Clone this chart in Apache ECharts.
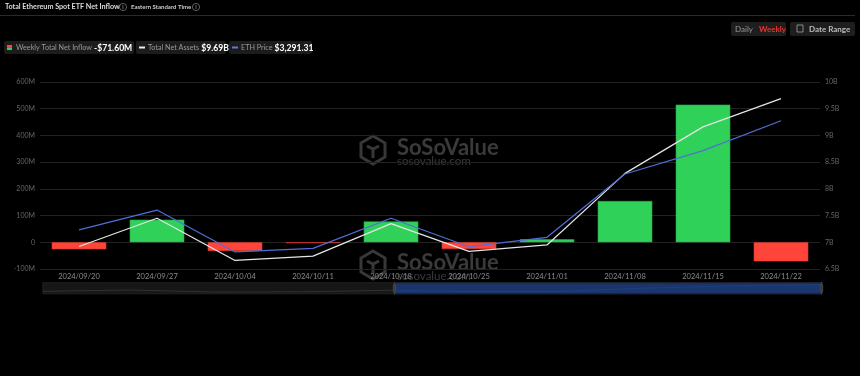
<!doctype html>
<html>
<head>
<meta charset="UTF-8">
<title>eth_etf_inflow</title>
<script src="https://cdn.jsdelivr.net/npm/echarts@6/dist/echarts.min.js"></script>
<style>
    html, body { margin: 0; padding: 0; background: #000; }
    #main { width: 860px; height: 376px; }
</style>
</head>
<body>
<div id="main"></div>
<script>
// weekly data
var dates = ['2024/09/20', '2024/09/27', '2024/10/04', '2024/10/11', '2024/10/18',
             '2024/10/25', '2024/11/01', '2024/11/08', '2024/11/15', '2024/11/22'];
var netInflow = [-26.2, 84.6, -32.4, -3.2, 77.8, -25.6, 11.2, 154.7, 515.2, -71.6];   // M USD
var netAssets = [6.92, 7.45, 6.66, 6.74, 7.35, 6.83, 6.95, 8.29, 9.16, 9.69];         // B USD
var ethPrice = [2561, 2694, 2414, 2438, 2639, 2449, 2512, 2935, 3091, 3291.31];
var leftTicks = [-100, 600, 100];
var rightTicks = [6.5, 10, 0.5];

var myChart = echarts.init(document.getElementById('main'));

var GREEN = '#30d158', RED = '#ff453a';

function txt(x, y, s, color, size, weight, extra) {
    var st = { text: s, fill: color, fontSize: size, fontWeight: weight || 'normal', fontFamily: 'Lato' };
    for (var k in extra) st[k] = extra[k];
    return { type: 'text', x: x, y: y, style: st };
}

function infoIcon(x, y) {
    return {
        type: 'group', x: x, y: y, children: [
            { type: 'circle', shape: { cx: 4, cy: 4, r: 3.6 }, style: { fill: 'none', stroke: '#777', lineWidth: 0.8 } },
            txt(4, 4.3, 'i', '#888', 5.5, 'bold', { align: 'center', verticalAlign: 'middle' })
        ]
    };
}

function watermark(top) {
    return {
        type: 'group', x: 360, y: top, z: -10, silent: true, children: [
            { type: 'polygon', shape: { points: [[13, 0], [25, 7], [25, 21], [13, 28], [1, 21], [1, 7]] },
              style: { fill: 'none', stroke: '#383838', lineWidth: 3 } },
            { type: 'polyline', shape: { points: [[7, 10], [13, 13], [19, 10]] },
              style: { fill: 'none', stroke: '#383838', lineWidth: 3 } },
            { type: 'polyline', shape: { points: [[13, 13], [13, 22]] },
              style: { fill: 'none', stroke: '#383838', lineWidth: 3 } },
            txt(37, 1, 'SoSoValue', '#3a3a3a', 22, 'bold'),
            txt(37, 19, 'sosovalue.com', '#3a3a3a', 11.5)
        ]
    };
}

var legendItems = [
    { x: 4, w: 130, label: 'Weekly Total Net Inflow', value: '-$71.60M', kind: 'bar' },
    { x: 136, w: 90, label: 'Total Net Assets', value: '$9.69B', kind: 'white' },
    { x: 229, w: 83, label: 'ETH Price', value: '$3,291.31', kind: 'blue' }
];

var graphics = [
    txt(5, 3.5, 'Total Ethereum Spot ETF Net Inflow', '#ddd', 7.2, 'bold'),
    infoIcon(119, 3),
    txt(131, 4.5, 'Eastern Standard Time', '#ccc', 6, 'bold'),
    infoIcon(192, 3),
    { type: 'rect', x: 0, y: 15, shape: { width: 855, height: 1 }, style: { fill: '#2a2a2a' } },
    // period buttons
    { type: 'rect', x: 731, y: 22, shape: { width: 55, height: 14, r: 2 }, style: { fill: '#1e1e1e' } },
    txt(735, 25, 'Daily', '#999', 8),
    txt(759, 25, 'Weekly', '#e0392f', 8, 'bold'),
    { type: 'rect', x: 790, y: 22, shape: { width: 65, height: 14, r: 2 }, style: { fill: '#1e1e1e' } },
    { type: 'rect', x: 797, y: 25, shape: { width: 6, height: 7 }, style: { fill: 'none', stroke: '#888', lineWidth: 1 } },
    txt(809, 25, 'Date Range', '#bbb', 8, 'bold'),
    watermark(136),
    watermark(251)
];

legendItems.forEach(function (it) {
    var children = [
        { type: 'rect', shape: { x: 0, y: 0, width: it.w, height: 13, r: 2 }, style: { fill: '#1c1c1c' } }
    ];
    if (it.kind === 'bar') {
        children.push({ type: 'rect', shape: { x: 3, y: 4, width: 5, height: 2.5 }, style: { fill: RED } });
        children.push({ type: 'rect', shape: { x: 3, y: 6.5, width: 5, height: 2.5 }, style: { fill: GREEN } });
    } else {
        children.push({ type: 'rect', shape: { x: 3, y: 5.5, width: 6, height: 2 }, style: { fill: it.kind === 'white' ? '#eee' : '#5b7be0' } });
    }
    children.push({
        type: 'text', x: 12, y: 6.8,
        style: {
            text: '{l|' + it.label + '}{v|' + it.value + '}',
            verticalAlign: 'middle',
            rich: {
                l: { fill: '#999', fontSize: 7.2, fontFamily: 'Lato', padding: [0, 2, 0, 0] },
                v: { fill: '#fff', fontSize: 8.6, fontWeight: 'bold', fontFamily: 'Lato' }
            }
        }
    });
    graphics.push({ type: 'group', x: it.x, y: 41, children: children });
});

var option = {
    backgroundColor: '#000',
    animation: false,
    graphic: graphics,
    grid: [
        { left: 40, right: 40, top: 82, bottom: 107, containLabel: false },
        { left: 40, right: 40, top: 283, height: 10, show: false }
    ],
    xAxis: [
        {
            type: 'category', data: dates, gridIndex: 0,
            axisLine: { show: false },
            axisTick: { show: false },
            axisLabel: { color: '#8a8a8a', fontSize: 7.5, fontFamily: 'Lato', margin: 4 }
        },
        { type: 'category', data: dates, gridIndex: 1, show: false, boundaryGap: false }
    ],
    yAxis: [
        {
            type: 'value', min: leftTicks[0], max: leftTicks[1], interval: leftTicks[2],
            axisLabel: { color: '#666', fontSize: 7, fontFamily: 'Lato', margin: 5,
                formatter: function (v) { return v === 0 ? '0' : v + 'M'; } },
            splitLine: { lineStyle: { color: '#222', width: 1 } },
            axisLine: { show: false }, axisTick: { show: false }
        },
        {
            type: 'value', min: rightTicks[0], max: rightTicks[1], interval: rightTicks[2],
            position: 'right',
            axisLabel: { color: '#666', fontSize: 7, fontFamily: 'Lato', margin: 5,
                formatter: function (v) { return v + 'B'; } },
            splitLine: { show: false },
            axisLine: { show: false }, axisTick: { show: false }
        },
        { type: 'value', min: 2300, max: 3550, show: false },
        { type: 'value', gridIndex: 1, show: false, scale: true }
    ],
    dataZoom: [{
        type: 'slider', xAxisIndex: 1, start: 45, end: 100,
        left: 40, right: 40, top: 282, height: 12,
        backgroundColor: '#161616', borderColor: '#1e1e1e',
        fillerColor: 'rgba(28,58,120,0.85)',
        handleSize: '100%',
        handleStyle: { color: '#3c3c3c', borderColor: '#444' },
        moveHandleSize: 0,
        showDetail: false, brushSelect: false,
        dataBackground: { lineStyle: { color: '#3a3a3a', width: 0.8 }, areaStyle: { color: '#1f1f1f' } },
        selectedDataBackground: { lineStyle: { color: '#3b64c8', width: 0.8 }, areaStyle: { color: '#23458e' } }
    }],
    series: [
        {
            name: 'Weekly Total Net Inflow', type: 'bar', barWidth: '70%',
            data: netInflow.map(function (v) {
                return { value: v, itemStyle: { color: v >= 0 ? GREEN : RED, borderColor: v >= 0 ? '#27a84a' : '#d63a31', borderWidth: 0.6 } };
            }),
            z: 2
        },
        {
            name: 'Total Net Assets', type: 'line', yAxisIndex: 1, data: netAssets,
            symbol: 'none', lineStyle: { color: '#e6e6e6', width: 1.2 }, z: 3
        },
        {
            name: 'ETH Price', type: 'line', yAxisIndex: 2, data: ethPrice,
            symbol: 'none', lineStyle: { color: '#4f6fd6', width: 1.2 }, z: 4
        },
        {
            name: 'shadow', type: 'line', xAxisIndex: 1, yAxisIndex: 3, data: netAssets,
            symbol: 'none', lineStyle: { opacity: 0 }, silent: true
        }
    ]
};

myChart.setOption(option);
</script>
</body>
</html>
